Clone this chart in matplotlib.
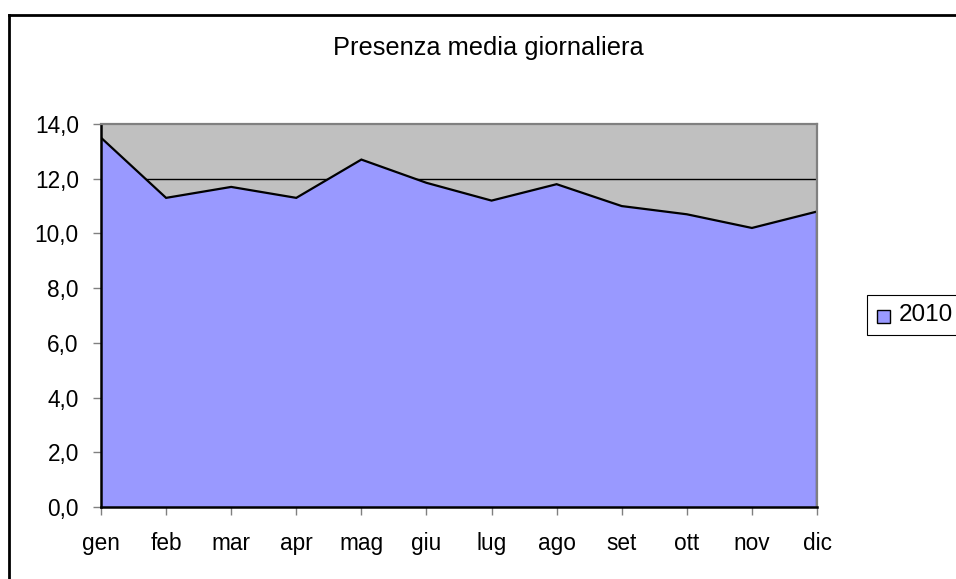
import matplotlib
matplotlib.use("Agg")
import matplotlib.pyplot as plt
from matplotlib.lines import Line2D
import numpy as np

months = ["gen", "feb", "mar", "apr", "mag", "giu", "lug", "ago", "set", "ott", "nov", "dic"]
values_2010 = [13.5, 11.3, 11.7, 11.3, 12.7, 11.85, 11.2, 11.8, 11.0, 10.7, 10.2, 10.8]
yticks = [0, 2, 4, 6, 8, 10, 12, 14]
ytick_labels = ["0,0", "2,0", "4,0", "6,0", "8,0", "10,0", "12,0", "14,0"]
title = "Presenza media giornaliera"
series_name = "2010"

plt.rcParams['font.family'] = ['Liberation Sans', 'DejaVu Sans']

W, H = 956, 579
fig = plt.figure(figsize=(W / 100, H / 100), dpi=100)
fig.patch.set_facecolor("white")

ax = fig.add_axes([101 / W, 1 - 507 / H, (817 - 101) / W, (507 - 124) / H])
ax.set_facecolor("#C0C0C0")
x = np.arange(len(months))

for yv in yticks[1:-1]:
    ax.axhline(yv, color="black", lw=1.0, zorder=1)

ax.fill_between(x, 0, values_2010, facecolor="#9999FF", edgecolor="none", zorder=2)
ax.plot(x, values_2010, color="black", lw=1.6, zorder=3, solid_joinstyle="miter")
ax.plot([x[-1], x[-1]], [0, values_2010[-1]], color="black", lw=1.6, zorder=3)

ax.set_xlim(0, len(months) - 1)
ax.set_ylim(0, 14)
ax.set_yticks(yticks)
ax.set_yticklabels(ytick_labels, fontsize=16.3)
ax.set_xticks(x)
ax.set_xticklabels(months, fontsize=16.3)

for s in ["top", "right"]:
    ax.spines[s].set_color("#808080")
    ax.spines[s].set_linewidth(1.6)
ax.spines["left"].set_color("black")
ax.spines["left"].set_linewidth(1.8)
ax.spines["bottom"].set_color("black")
ax.spines["bottom"].set_linewidth(1.8)
for s in ax.spines.values():
    s.set_zorder(4)

ax.tick_params(axis="y", length=5.5, width=1.0, color="#808080", pad=10.5)
ax.tick_params(axis="x", length=5.5, width=1.0, color="#808080", pad=12.5)

fig.text(488 / W, 1 - 48 / H, title, ha="center", va="center", fontsize=18.3)

# legend
leg_left, leg_top, leg_right, leg_bot = 867, 295, 960, 335
fig.patches.append(plt.Rectangle((leg_left / W, 1 - leg_bot / H), (leg_right - leg_left) / W,
                                 (leg_bot - leg_top) / H, transform=fig.transFigure,
                                 facecolor="white", edgecolor="black", lw=0.8))
fig.patches.append(plt.Rectangle((877 / W, 1 - 323 / H), 13 / W, 13 / H, transform=fig.transFigure,
                                 facecolor="#9999FF", edgecolor="black", lw=1.0))
fig.text(899 / W, 1 - 315 / H, series_name, ha="left", va="center", fontsize=17.5)

# chart frame
fig.add_artist(Line2D([8.5 / W, 8.5 / W], [0, 1 - 15 / H], color="black", lw=2.0, transform=fig.transFigure))
fig.add_artist(Line2D([8.5 / W, 1], [1 - 15 / H, 1 - 15 / H], color="black", lw=2.0, transform=fig.transFigure,
                      solid_capstyle="projecting"))

fig.savefig("out.png", dpi=100)
